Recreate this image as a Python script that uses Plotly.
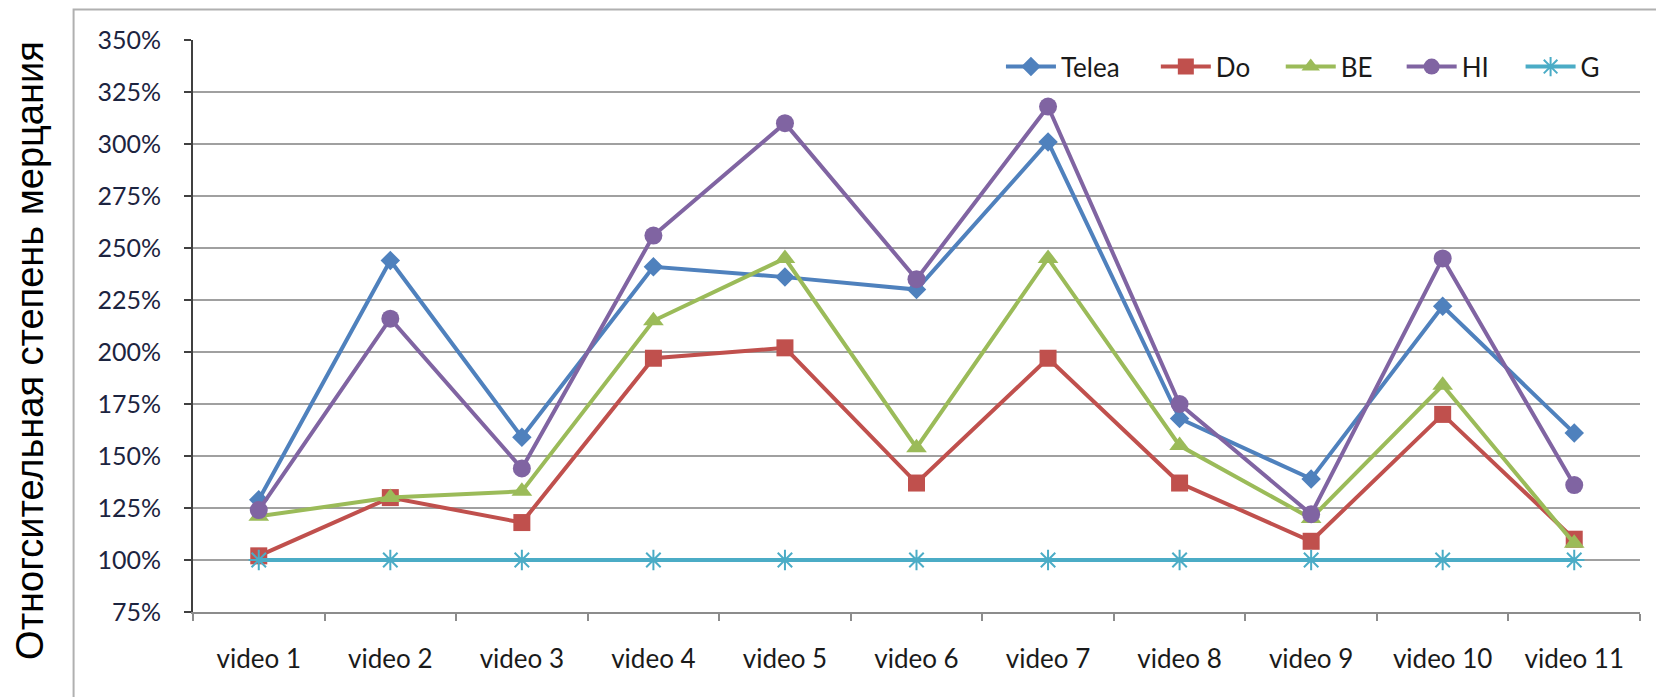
import plotly.graph_objects as go

# Relative flicker per test video for each inpainting method (percent)
videos = ["video 1", "video 2", "video 3", "video 4", "video 5", "video 6",
          "video 7", "video 8", "video 9", "video 10", "video 11"]
telea = [129, 244, 159, 241, 236, 230, 301, 168, 139, 222, 161]
do = [102, 130, 118, 197, 202, 137, 197, 137, 109, 170, 110]
be = [121, 130, 133, 215, 245, 154, 245, 155, 120, 184, 108]
hi = [124, 216, 144, 256, 310, 235, 318, 175, 122, 245, 136]
g = [100, 100, 100, 100, 100, 100, 100, 100, 100, 100, 100]

y_ticks = [75, 100, 125, 150, 175, 200, 225, 250, 275, 300, 325, 350]
y_labels = [f"{v}%" for v in y_ticks]

W, H = 1656, 697
L, R, T, B = 192.5, 15.5, 40, 84.6
pw = W - L - R
ph = H - T - B


def px_x(v):
    return (v - L) / pw


def px_y(v):
    return (H - B - v) / ph


# name, values, colour, marker style, left edge of its legend entry (px)
series = [
    ("Telea", telea, "#4F81BD", dict(symbol="diamond", size=15), 1001),
    ("Do", do, "#C0504D", dict(symbol="square", size=17), 1156),
    ("BE", be, "#9BBB59", dict(symbol="triangle-up", size=18), 1281),
    ("HI", hi, "#8064A2", dict(symbol="circle", size=18), 1402),
    ("G", g, "#4BACC6", dict(symbol="asterisk-open", size=17,
                             line=dict(width=2, color="#4BACC6")), 1521),
]

fig = go.Figure()
legend_layout = {}
for i, (name, vals, color, marker, lx) in enumerate(series):
    key = "legend" if i == 0 else f"legend{i + 1}"
    fig.add_trace(go.Scatter(
        x=videos, y=vals, name=name, mode="lines+markers",
        line=dict(color=color, width=4),
        marker=dict(color=color, **marker),
        legend=key,
    ))
    legend_layout[key] = dict(
        orientation="h", x=px_x(lx), xanchor="left",
        y=px_y(66.7), yanchor="middle",
        font=dict(family="Lato", size=26, color="#1a1a1a"),
        bgcolor="rgba(0,0,0,0)", itemwidth=50, borderwidth=0,
    )

fig.update_layout(
    width=W, height=H,
    margin=dict(l=L, r=R, t=T, b=B, pad=0),
    paper_bgcolor="white", plot_bgcolor="white",
    font=dict(family="Lato", size=25, color="#1a1a1a"),
    showlegend=True,
    xaxis=dict(
        type="category", range=[-0.5, 10.5],
        tickson="boundaries", ticks="outside", ticklen=7, tickwidth=2,
        tickcolor="#8c8c8c", showline=True, linecolor="#8c8c8c", linewidth=2,
        showgrid=False, zeroline=False, ticklabelstandoff=23,
        tickfont=dict(family="Lato", size=26, color="#1a1a1a"),
    ),
    yaxis=dict(
        range=[75, 350], tickmode="array", tickvals=y_ticks, ticktext=y_labels,
        ticks="outside", ticklen=7, tickwidth=2, tickcolor="#404040",
        showline=True, linecolor="#404040", linewidth=2,
        showgrid=True, gridcolor="#a0a0a0", gridwidth=2,
        zeroline=False, ticklabelstandoff=18,
        tickfont=dict(family="Lato", size=25, color="#1c2440"),
    ),
    annotations=[dict(
        text="Отногсительная степень мерцания",
        xref="paper", yref="paper", x=px_x(30), y=px_y(350.5),
        xanchor="center", yanchor="middle", textangle=-90, showarrow=False,
        font=dict(family="Liberation Sans", size=38, color="black"),
    )],
    shapes=[dict(
        type="rect", xref="paper", yref="paper", layer="below",
        x0=px_x(73), x1=px_x(1700), y0=px_y(720), y1=px_y(9.5),
        line=dict(color="#b0b0b0", width=2), fillcolor="rgba(0,0,0,0)",
    )],
    **legend_layout,
)

fig.write_html("out.html")
